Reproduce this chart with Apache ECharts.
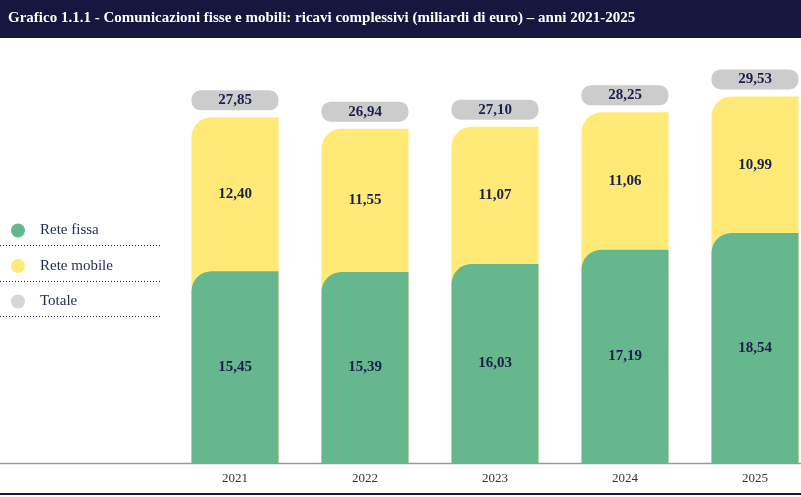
<!DOCTYPE html>
<html><head><meta charset="utf-8">
<script src="https://cdn.jsdelivr.net/npm/echarts@6/dist/echarts.min.js"></script>
<style>html,body{margin:0;padding:0;background:#fff}#c{width:801px;height:497px}</style>
</head><body><div id="c"></div>
<script>
var categories = ['2021','2022','2023','2024','2025'];
var reteFissa = [15.45, 15.39, 16.03, 17.19, 18.54];
var reteMobile = [12.40, 11.55, 11.07, 11.06, 10.99];
var totale = [27.85, 26.94, 27.10, 28.25, 29.53];
var titleText = 'Grafico 1.1.1 - Comunicazioni fisse e mobili: ricavi complessivi (miliardi di euro) \u2013 anni 2021-2025';

var SERIF = '"Liberation Serif","DejaVu Serif",serif';
var NAVY = '#16163f';
var GREEN = '#66b68e';
var YELLOW = '#ffea78';
var GREY = '#cccccc';
function fmt(v){ return v.toFixed(2).replace('.', ','); }

var chart = echarts.init(document.getElementById('c'), null, {renderer:'canvas'});
var dotted = function(y){ return {type:'line', shape:{x1:0,y1:y,x2:160,y2:y}, style:{stroke:'#222', lineWidth:1, lineDash:[1,2]}, silent:true}; };
chart.setOption({
  animation:false,
  textStyle:{fontFamily:SERIF},
  graphic:[
    {type:'rect', shape:{x:0,y:0,width:801,height:38}, style:{fill:NAVY}, silent:true},
    {type:'text', left:8, top:11, style:{text:titleText, fill:'#fff', font:'bold 15px '+SERIF}},
    {type:'line', shape:{x1:0,y1:463.5,x2:801,y2:463.5}, style:{stroke:'#999', lineWidth:1.5}, silent:true},
    {type:'line', shape:{x1:0,y1:494,x2:801,y2:494}, style:{stroke:NAVY, lineWidth:2}, silent:true},
    dotted(245.5), dotted(281.5), dotted(316.5)
  ],
  legend:{
    orient:'vertical', left:6, top:218, itemWidth:14, itemHeight:14, itemGap:20.5,
    icon:'circle',
    data:['Rete fissa','Rete mobile','Totale'],
    textStyle:{fontFamily:SERIF, fontSize:15, color:'#1f2a55', padding:[0,0,0,10]},
    selectedMode:false
  },
  grid:{left:235, width:520, top:41, bottom:34},
  xAxis:{type:'category', data:categories, boundaryGap:false, axisLine:{show:false}, axisTick:{show:false},
    axisLabel:{fontFamily:SERIF, fontSize:13, color:'#333', margin:9}},
  yAxis:{type:'value', min:0, max:34, show:false, splitLine:{show:false}},
  series:[
    {name:'Rete mobile', type:'bar', data:totale, barWidth:87, barGap:'-100%', z:2, clip:false,
      itemStyle:{color:YELLOW, borderRadius:[20,0,0,0]},
      label:{show:true, position:'top', distance:7, formatter:function(p){return fmt(totale[p.dataIndex]);},
        backgroundColor:GREY, borderRadius:9, width:87, height:20, lineHeight:20, align:'center',
        fontFamily:SERIF, fontSize:15, fontWeight:'bold', color:'#1b1f4b'}},
    {name:'Rete fissa', type:'bar', data:reteFissa, stack:'s', barWidth:87, z:3, clip:false,
      itemStyle:{color:GREEN, borderRadius:[20,0,0,0]},
      label:{show:true, position:'inside', formatter:function(p){return fmt(p.value);},
        fontFamily:SERIF, fontSize:15, fontWeight:'bold', color:'#1b1f4b'}},
    {name:'mobileLabel', type:'bar', data:reteMobile, stack:'s', barWidth:87, z:4, clip:false,
      itemStyle:{color:'rgba(0,0,0,0)'},
      label:{show:true, position:'inside', formatter:function(p){return fmt(p.value);},
        fontFamily:SERIF, fontSize:15, fontWeight:'bold', color:'#1b1f4b'}},
    {name:'Totale', type:'scatter', data:[], itemStyle:{color:GREY}}
  ]
});
</script></body></html>
